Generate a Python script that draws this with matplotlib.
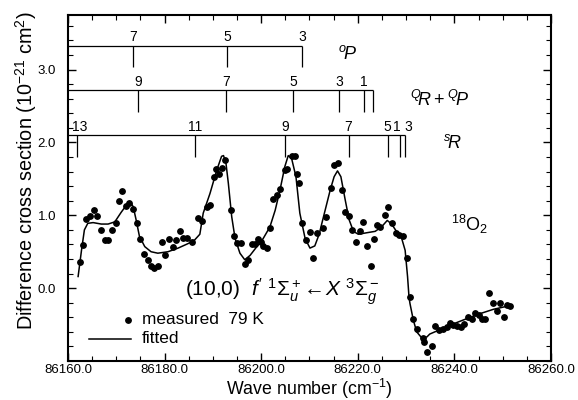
import matplotlib
matplotlib.use("Agg")
import matplotlib.pyplot as plt
from matplotlib.ticker import MultipleLocator

plt.rcParams['font.family'] = ['Liberation Sans', 'DejaVu Sans']
plt.rcParams['mathtext.fontset'] = 'custom'
plt.rcParams['mathtext.rm'] = 'Liberation Sans'
plt.rcParams['mathtext.it'] = 'Liberation Sans:italic'
plt.rcParams['mathtext.bf'] = 'Liberation Sans:bold'

# measured difference cross section, 79 K
meas_wn = [86162.5, 86163.1, 86163.8, 86164.6, 86165.4, 86166.1, 86166.9, 86167.6,
           86168.3, 86169.2, 86169.9, 86170.5, 86171.2, 86172.1, 86172.7, 86173.5,
           86174.2, 86175.0, 86175.7, 86176.6, 86177.2, 86177.9, 86178.6, 86179.5,
           86180.1, 86180.9, 86181.7, 86182.4, 86183.2, 86183.9, 86184.6, 86185.6,
           86187.0, 86187.8, 86188.7, 86189.3, 86190.2, 86190.7, 86191.3, 86191.9,
           86192.6, 86193.7, 86194.4, 86195.0, 86195.9, 86196.6, 86197.3, 86198.0,
           86198.7, 86199.4, 86199.9, 86200.4, 86201.1, 86201.8, 86202.5, 86203.3,
           86203.9, 86204.9, 86205.4, 86206.3, 86207.0, 86207.4, 86207.8, 86208.5,
           86209.2, 86210.1, 86210.8, 86211.5, 86212.9, 86213.4, 86214.4, 86215.1,
           86216.0, 86216.7, 86217.4, 86218.2, 86218.9, 86219.6, 86220.5, 86221.1,
           86222.0, 86222.7, 86223.4, 86224.0, 86224.7, 86225.6, 86226.3, 86227.1,
           86227.9, 86228.6, 86229.4, 86230.1, 86230.8, 86231.5, 86232.3, 86233.6,
           86233.8, 86234.4, 86235.3, 86236.0, 86236.9, 86237.7, 86238.4, 86239.1,
           86239.8, 86240.5, 86241.3, 86242.0, 86242.9, 86243.6, 86244.3, 86245.0,
           86245.7, 86246.3, 86247.2, 86247.9, 86248.8, 86249.4, 86250.3, 86250.9,
           86251.6]
meas_xs = [0.36, 0.59, 0.95, 0.99, 1.07, 0.99, 0.80, 0.66,
           0.66, 0.80, 0.90, 1.20, 1.34, 1.13, 1.17, 1.08,
           0.90, 0.67, 0.47, 0.39, 0.31, 0.28, 0.31, 0.63,
           0.45, 0.67, 0.56, 0.66, 0.78, 0.69, 0.69, 0.63,
           0.96, 0.92, 1.12, 1.14, 1.52, 1.63, 1.57, 1.65,
           1.76, 1.07, 0.72, 0.62, 0.62, 0.33, 0.39, 0.61,
           0.61, 0.67, 0.63, 0.58, 0.55, 0.82, 1.23, 1.28,
           1.36, 1.62, 1.64, 1.82, 1.81, 1.57, 1.44, 0.90,
           0.66, 0.77, 0.41, 0.76, 0.82, 0.98, 1.37, 1.69,
           1.72, 1.35, 1.05, 0.99, 0.80, 0.64, 0.79, 0.91,
           0.58, 0.30, 0.68, 0.87, 0.84, 1.00, 1.11, 0.90,
           0.76, 0.73, 0.72, 0.41, -0.12, -0.42, -0.56, -0.69,
           -0.74, -0.88, -0.80, -0.52, -0.58, -0.56, -0.54, -0.48,
           -0.50, -0.52, -0.54, -0.49, -0.40, -0.43, -0.34, -0.37,
           -0.43, -0.43, -0.06, -0.20, -0.31, -0.20, -0.39, -0.23,
           -0.25]

# fitted profile
fit_wn = [86162.1, 86162.8, 86163.4, 86164.1, 86165.2, 86166.9, 86168.3, 86169.7,
          86171.0, 86172.1, 86172.8, 86173.5, 86174.1, 86174.8, 86175.9, 86177.2,
          86178.6, 86180.7, 86182.8, 86184.8, 86186.2, 86187.3, 86188.0, 86189.4,
          86190.8, 86191.8, 86192.2, 86192.7, 86193.2, 86193.9, 86194.6, 86195.6,
          86196.6, 86197.7, 86199.1, 86200.4, 86201.8, 86202.9, 86203.9, 86204.9,
          86205.6, 86206.3, 86207.2, 86208.0, 86209.1, 86210.1, 86211.1, 86212.0,
          86212.9, 86214.3, 86215.1, 86215.8, 86216.5, 86217.4, 86218.2, 86219.1,
          86220.1, 86221.8, 86223.6, 86224.9, 86226.1, 86227.0, 86228.2, 86229.1,
          86229.8, 86230.3, 86230.6, 86230.8, 86231.5, 86232.2, 86233.2, 86234.3,
          86234.9, 86237.0, 86239.8, 86242.5, 86245.3, 86248.1, 86250.8, 86251.9]
fit_xs = [0.16, 0.52, 0.80, 0.89, 0.90, 0.88, 0.88, 0.91,
          1.04, 1.14, 1.19, 1.12, 0.94, 0.71, 0.57, 0.50,
          0.48, 0.50, 0.55, 0.61, 0.66, 0.74, 1.03, 1.30,
          1.62, 1.81, 1.82, 1.72, 1.44, 0.98, 0.68, 0.48,
          0.39, 0.45, 0.57, 0.68, 0.84, 1.07, 1.35, 1.67,
          1.82, 1.78, 1.53, 1.03, 0.68, 0.55, 0.58, 0.74,
          0.98, 1.35, 1.53, 1.61, 1.53, 1.21, 0.94, 0.78,
          0.74, 0.76, 0.78, 0.84, 0.93, 0.88, 0.76, 0.68,
          0.52, 0.16, -0.12, -0.21, -0.44, -0.60, -0.68, -0.67,
          -0.63, -0.57, -0.49, -0.42, -0.35, -0.29, -0.25, -0.23]

# rotational line positions for each branch
op_pos = [86173.4, 86193.0, 86208.5]
op_lab = ['7', '5', '3']
qr_pos = [86174.6, 86192.8, 86206.6, 86216.2, 86221.2, 86223.2]
qr_lab = ['9', '7', '5', '3', '1', '']
sr_pos = [86161.9, 86186.3, 86204.9, 86218.1, 86226.2, 86228.8, 86229.8]
sr_lab = ['13', '11', '9', '7', '5', '1', '3']

fig = plt.figure(figsize=(5.78, 4.0), dpi=100)
ax = fig.add_axes([0.1176, 0.0975, 0.8357, 0.865])

ax.plot(fit_wn, fit_xs, color='black', lw=1.1)
ax.plot(meas_wn, meas_xs, 'o', color='black', ms=3.9, mec='black')

ax.set_xlim(86160, 86260)
ax.set_ylim(-1.0, 3.75)

# branch ladders
def ladder(pos, labs, y0, name, nx, ny, nudge=None):
    ax.hlines(y0, 86160, max(pos), color='black', lw=0.9)
    ax.vlines(pos, y0 - 0.3, y0, color='black', lw=0.9)
    if nudge is None:
        nudge = [0] * len(pos)
    for p, l, dx in zip(pos, labs, nudge):
        ax.annotate(l, (p, y0), xytext=(dx, 1), textcoords='offset points',
                    ha='center', va='bottom', fontsize=10)
    ax.text(nx, ny, name, ha='center', va='center', fontsize=13)

ladder(op_pos, op_lab, 3.33, r'$^{o}\!P$', 86217.8, 3.21)
ladder(qr_pos, qr_lab, 2.72, r'$^{Q}\!R+^{Q}\!P$', 86237.0, 2.58)
ladder(sr_pos, sr_lab, 2.10, r'$^{s}\!R$', 86239.5, 1.99,
       nudge=[2, 0, 0, 0, 0, -2.5, 2.5])

ax.text(86243.2, 0.88, r'$^{18}$O$_2$', ha='center', va='center', fontsize=13)
ax.text(86184.2, -0.05, r"(10,0)  $f'\ ^1\Sigma_u^+\!\leftarrow\!X\ ^3\Sigma_g^-$",
        ha='left', va='center', fontsize=15)

# legend
ax.plot([0.124], [0.1185], 'o', color='black', ms=3.9, transform=ax.transAxes)
ax.text(0.153, 0.1185, 'measured  79 K', transform=ax.transAxes,
        ha='left', va='center', fontsize=12.4)
ax.plot([0.043, 0.130], [0.0636, 0.0636], color='black', lw=1.1, transform=ax.transAxes)
ax.text(0.153, 0.0636, 'fitted', transform=ax.transAxes,
        ha='left', va='center', fontsize=12.4)

ax.xaxis.set_major_locator(MultipleLocator(20))
ax.xaxis.set_minor_locator(MultipleLocator(5))
ax.set_yticks([0, 1, 2, 3])
ax.yaxis.set_minor_locator(MultipleLocator(0.2))
ax.set_xticklabels(['%.1f' % v for v in ax.get_xticks()])
ax.set_yticklabels(['0.0', '1.0', '2.0', '3.0'])
ax.tick_params(which='both', direction='in', top=True, right=True, labelsize=9.5)
ax.tick_params(axis='y', which='major', pad=8.5)
ax.tick_params(axis='x', which='major', pad=2.5)
ax.tick_params(which='major', length=6, width=1.0)
ax.tick_params(which='minor', length=3.5, width=0.8)
for s in ax.spines.values():
    s.set_linewidth(1.5)

ax.set_xlabel(r'Wave number (cm$^{-1}$)', fontsize=12.8)
ax.set_ylabel(r'Difference cross section (10$^{-21}$ cm$^2$)', fontsize=14.3)
ax.xaxis.set_label_coords(0.5, -0.047)
ax.yaxis.set_label_coords(-0.061, 0.55)

fig.savefig('out.png', dpi=100)
